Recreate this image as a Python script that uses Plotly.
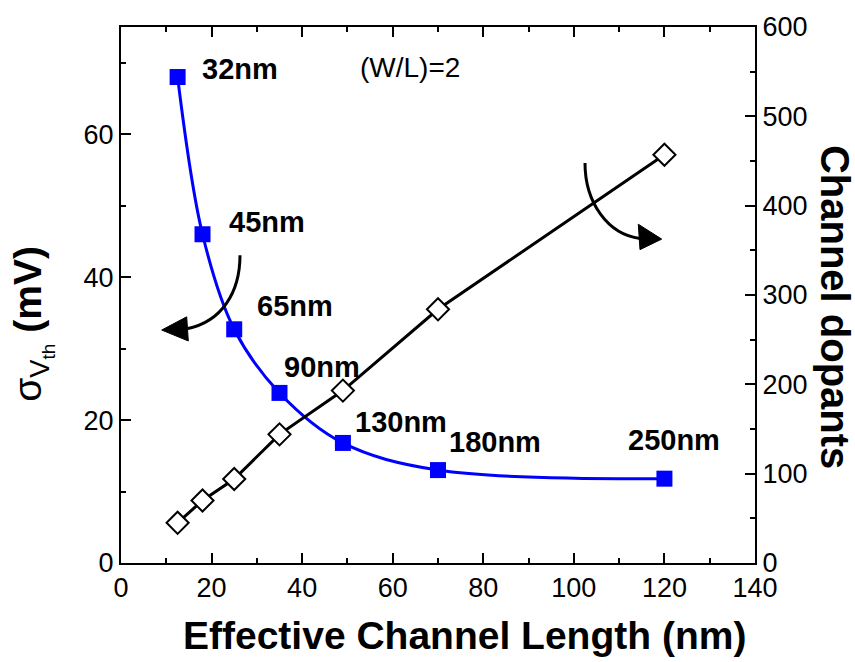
import plotly.graph_objects as go

# ---- data ----
length_nm = [12.5, 18, 25, 35, 49, 70, 120]
sigma_vth_mV = [68, 46, 32.7, 23.8, 16.8, 13.0, 11.8]
channel_dopants = [45, 70, 94, 144, 193, 284, 457]
node_labels = ["32nm", "45nm", "65nm", "90nm", "130nm", "180nm", "250nm"]

x_ticks = [0, 20, 40, 60, 80, 100, 120, 140]
y_left_ticks = [0, 20, 40, 60]
y_right_ticks = [0, 100, 200, 300, 400, 500, 600]

# ---- layout geometry (pixels) ----
W, H = 855, 662
L, R, T, B = 121, 100, 23, 99
PW, PH = W - L - R, H - T - B


def px(xp):
    return (xp - L) / PW


def py(yp):
    return (H - B - yp) / PH


SANS = "Liberation Sans, Arial, Helvetica, sans-serif"

fig = go.Figure()

fig.add_trace(go.Scatter(
    x=length_nm, y=sigma_vth_mV, mode="lines+markers",
    line=dict(color="#0000FF", width=3, shape="spline", smoothing=1.0),
    marker=dict(symbol="square", size=16, color="#0000FF"),
    yaxis="y", showlegend=False,
))

fig.add_trace(go.Scatter(
    x=length_nm, y=channel_dopants, mode="lines+markers",
    line=dict(color="black", width=3),
    marker=dict(symbol="diamond", size=17, color="white",
                line=dict(color="black", width=2)),
    yaxis="y2", showlegend=False,
))

tickfont = dict(family=SANS, size=27, color="black")

fig.update_layout(
    width=W, height=H,
    margin=dict(l=L, r=R, t=T, b=B, pad=0),
    paper_bgcolor="white", plot_bgcolor="white",
    xaxis=dict(
        range=[0, 140], tickvals=x_ticks, ticktext=[str(v) for v in x_ticks],
        ticks="inside", ticklen=10, tickwidth=2, tickcolor="black",
        minor=dict(ticks="inside", ticklen=5, tickwidth=2, tickcolor="black", dtick=10, tick0=0),
        showline=True, linecolor="black", linewidth=2, mirror="ticks",
        showgrid=False, zeroline=False, tickfont=tickfont,
    ),
    yaxis=dict(
        range=[0, 75], tickvals=y_left_ticks, ticktext=[str(v) for v in y_left_ticks],
        ticks="inside", ticklen=10, tickwidth=2, tickcolor="black",
        minor=dict(ticks="inside", ticklen=5, tickwidth=2, tickcolor="black", dtick=10, tick0=0),
        showline=True, linecolor="black", linewidth=2,
        showgrid=False, zeroline=False, tickfont=tickfont,
    ),
    yaxis2=dict(
        range=[0, 600], tickvals=y_right_ticks, ticktext=[str(v) for v in y_right_ticks],
        overlaying="y", side="right",
        ticks="inside", ticklen=10, tickwidth=2, tickcolor="black",
        minor=dict(ticks="inside", ticklen=5, tickwidth=2, tickcolor="black", dtick=50, tick0=0),
        showline=True, linecolor="black", linewidth=2,
        showgrid=False, zeroline=False, tickfont=tickfont,
    ),
)

# node labels (left-anchored pixel positions)
label_pos = [(200, 65), (227, 219), (255, 304), (282, 366), (353, 421), (447, 441), (626, 439)]
for txt, (lx, ly) in zip(node_labels, label_pos):
    fig.add_annotation(x=px(lx), y=py(ly), xref="paper", yref="paper",
                       text=f"<b>{txt}</b>", showarrow=False,
                       xanchor="left", yanchor="middle",
                       font=dict(family=SANS, size=29, color="black"))

fig.add_annotation(x=px(358), y=py(64), xref="paper", yref="paper",
                   text="(W/L)=2", showarrow=False, xanchor="left", yanchor="middle",
                   font=dict(family=SANS, size=28, color="black"))

# axis titles
fig.add_annotation(x=px(464), y=py(636), xref="paper", yref="paper",
                   text="<b>Effective Channel Length (nm)</b>", showarrow=False,
                   xanchor="center", yanchor="middle",
                   font=dict(family=SANS, size=39, color="black"))
fig.add_annotation(x=px(33), y=py(322), xref="paper", yref="paper",
                   text="σ<sub>V<sub>th</sub></sub> <b>(mV)</b>", showarrow=False,
                   textangle=-90, xanchor="center", yanchor="middle",
                   font=dict(family=SANS, size=39, color="black"))
fig.add_annotation(x=px(835), y=py(305), xref="paper", yref="paper",
                   text="<b>Channel dopants</b>", showarrow=False,
                   textangle=90, xanchor="center", yanchor="middle",
                   font=dict(family=SANS, size=40, color="black"))


def P(xp, yp):
    return f"{px(xp):.5f},{py(yp):.5f}"


# curved arrows
arrow_curves = [
    f"M {P(240,253)} C {P(240,290)} {P(222,320)} {P(187,327)}",
    f"M {P(585,160)} C {P(585,200)} {P(608,232)} {P(640,236)}",
]
arrow_heads = [
    f"M {P(161.7,328.3)} L {P(186.7,315)} L {P(188.3,339.3)} Z",
    f"M {P(661.7,236.7)} L {P(638.3,221.7)} L {P(640,247.3)} Z",
]
for c in arrow_curves:
    fig.add_shape(type="path", path=c, xref="paper", yref="paper",
                  line=dict(color="black", width=3))
for h in arrow_heads:
    fig.add_shape(type="path", path=h, xref="paper", yref="paper",
                  line=dict(color="black", width=1), fillcolor="black")

fig.write_html("out.html")
